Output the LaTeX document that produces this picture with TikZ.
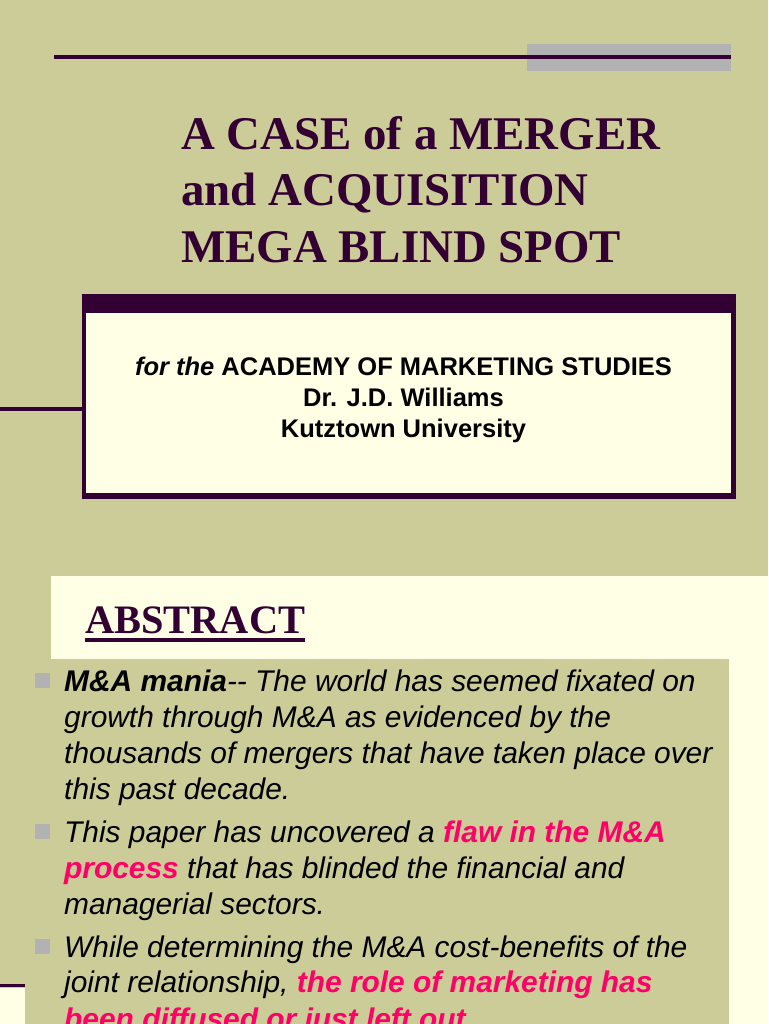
\documentclass[tikz,border=0pt]{standalone}
\usepackage{xcolor}
\usepackage{fontspec}
\setmainfont{Liberation Sans}
\newfontfamily\titlefont{Liberation Serif}
\usepackage{tikz}
\usetikzlibrary{positioning, calc}
\definecolor{pageolive}{HTML}{CCCC99}
\definecolor{darkplum}{HTML}{330033}
\definecolor{paperbright}{HTML}{FFFFE5}
\definecolor{slategrey}{HTML}{B2B2B2}
\definecolor{flawpink}{HTML}{FF0066}
\tikzset{
  titleline/.style={anchor=base west, inner sep=0pt, text=darkplum, font=\titlefont\bfseries\fontsize{46.85}{47}\selectfont},
  boxline/.style={anchor=base, inner sep=0pt, font=\bfseries\fontsize{25.5}{26}\selectfont},
  bodyline/.style={anchor=base west, inner sep=0pt, font=\itshape\fontsize{29.9}{30}\selectfont},
  bulletbox/.style={fill=slategrey, inner sep=0pt, minimum size=15pt, anchor=north west},
  ruleline/.style={darkplum, line width=3.5pt}
}
\newcommand{\flaw}[1]{\textcolor{flawpink}{\bfseries #1}}
\begin{document}
\begin{tikzpicture}[x=1pt, y=-1pt]
    \useasboundingbox (0,0) rectangle (768,1024);
    % Two slide panels
    \fill[pageolive] (0,0) rectangle (768,1024);
    \fill[paperbright] (51,576) rectangle (768,1024);
    \fill[pageolive] (51,658.5) rectangle (729,1024);
    \fill[paperbright] (0,988) rectangle (25,1024);
    % Top rule with grey bar
    \node[fill=slategrey, inner sep=0pt, minimum width=204pt, minimum height=27pt, anchor=north west] (greybar) at (527,44) {};
    \coordinate (ruleleft) at (54,57.5);
    \draw[ruleline, line width=4pt] (ruleleft) -- (ruleleft -| greybar.east);
    % Title
    \node[titleline] (titleone) at (181,150) {A CASE of a MERGER};
    \node[titleline] (titletwo) at (181,206) {and ACQUISITION};
    \node[titleline] (titlethree) at (181,262) {MEGA BLIND SPOT};
    % Author box
    \fill[darkplum] (82,294) rectangle (736,499);
    \node[fill=paperbright, inner sep=0pt, minimum width=645pt, minimum height=180pt, anchor=north west] (authorbox) at (86,313) {};
    \coordinate (boxstub) at (0,409);
    \draw[ruleline] (boxstub) -- (boxstub -| authorbox.west);
    \node[boxline] (boxone) at (403.5,375) {\textit{for the} ACADEMY OF MARKETING STUDIES};
    \node[boxline] (boxtwo) at (403.5,406) {Dr. J.D. Williams};
    \node[boxline] (boxthree) at (403.5,437) {Kutztown University};
    % Abstract heading
    \node[titleline, font=\titlefont\bfseries\fontsize{40.4}{41}\selectfont] (abstract) at (85,633) {ABSTRACT};
    \draw[ruleline] ($(abstract.base west)+(0,7)$) -- ($(abstract.base east)+(0,7)$);
    % Bullets
    \node[bulletbox] (bulletone) at (35,673) {};
    \node[bulletbox] (bullettwo) at (35,824) {};
    \node[bulletbox] (bulletthree) at (35,939) {};
    % Body text
    \node[bodyline] (lineone) at (64,691) {\textbf{M\&A mania}-{}- The world has seemed fixated on};
    \node[bodyline] (linetwo) at (64,727) {growth through M\&A as evidenced by the};
    \node[bodyline] (linethree) at (64,763) {thousands of mergers that have taken place over};
    \node[bodyline] (linefour) at (64,799) {this past decade.};
    \node[bodyline] (linefive) at (64,842) {This paper has uncovered a \flaw{flaw in the M\&A}};
    \node[bodyline] (linesix) at (64,878) {\flaw{process} that has blinded the financial and};
    \node[bodyline] (lineseven) at (64,914) {managerial sectors.};
    \node[bodyline] (lineeight) at (64,957) {While determining the M\&A cost-benefits of the};
    \node[bodyline] (linenine) at (64,992) {joint relationship, \flaw{the role of marketing has}};
    \node[bodyline] (lineten) at (64,1029) {\flaw{been diffused or just left out}};
    % Bottom left stub
    \coordinate (stubleft) at (0,985.5);
    \coordinate (stubright) at (25,985.5);
    \draw[ruleline] (stubleft) -- (stubright);
\end{tikzpicture}
\end{document}
